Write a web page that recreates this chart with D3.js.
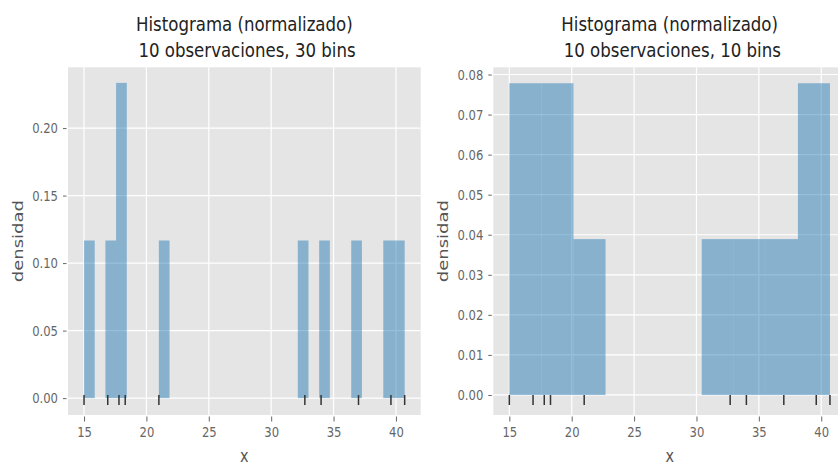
<!DOCTYPE html>
<html lang="es">
<head>
<meta charset="UTF-8">
<title>Histograma (normalizado)</title>
<script src="https://d3js.org/d3.v7.min.js"></script>
<style>
    html, body { margin: 0; padding: 0; background: #fff; overflow: hidden; }
    svg { display: block; font-family: "DejaVu Sans", sans-serif; }
    .tick line { stroke: #666; }
    .domain { display: none; }
</style>
</head>
<body>
<svg id="chart" width="838" height="465"></svg>
<script>
const observaciones = [15.0, 16.9, 17.8, 18.3, 21.0, 32.7, 34.0, 37.0, 39.6, 40.7];
const numBins = [30, 10];
const titulos = [
    ["Histograma (normalizado)", " 10 observaciones, 30 bins"],
    ["Histograma (normalizado)", " 10 observaciones, 10 bins"]
];
const xTicks = [15, 20, 25, 30, 35, 40];
const yTicksIzq = [0, 0.05, 0.10, 0.15, 0.20];
const yTicksDer = [0, 0.01, 0.02, 0.03, 0.04, 0.05, 0.06, 0.07, 0.08];
const yDominios = [[-0.0125, 0.245], [-0.005, 0.0818]];

const svg = d3.select("#chart");
const sx = 0.8; // texto comprimido horizontalmente como en la imagen

const panelW = 352.7, plotTop = 67.3, plotBottom = 415;
const panels = [
    {left: 68, yTicks: yTicksIzq, fmt: d3.format(".2f")},
    {left: 493.3, yTicks: yTicksDer, fmt: d3.format(".2f")}
];

const [xmin, xmax] = d3.extent(observaciones);
const pad = (xmax - xmin) * 0.05;

panels.forEach((p, i) => {
    const n = numBins[i];
    const w = (xmax - xmin) / n;
    const bins = d3.bin()
        .domain([xmin, xmax])
        .thresholds(d3.range(1, n).map(k => xmin + k * w))(observaciones);

    const x = d3.scaleLinear().domain([xmin - pad, xmax + pad]).range([p.left, p.left + panelW]);
    const y = d3.scaleLinear().domain(yDominios[i]).range([plotBottom, plotTop]);

    const g = svg.append("g");

    g.append("rect")
        .attr("x", p.left).attr("y", plotTop)
        .attr("width", panelW).attr("height", plotBottom - plotTop)
        .attr("fill", "#e5e5e5");

    // grid
    g.selectAll(".gx").data(xTicks).enter().append("line")
        .attr("x1", d => x(d)).attr("x2", d => x(d))
        .attr("y1", plotTop).attr("y2", plotBottom)
        .attr("stroke", "#fff").attr("stroke-width", 1.2);
    g.selectAll(".gy").data(p.yTicks).enter().append("line")
        .attr("x1", p.left).attr("x2", p.left + panelW)
        .attr("y1", d => y(d)).attr("y2", d => y(d))
        .attr("stroke", "#fff").attr("stroke-width", 1.2);

    // barras
    g.selectAll(".bar").data(bins.filter(b => b.length > 0)).enter().append("rect")
        .attr("x", d => x(d.x0))
        .attr("width", d => x(d.x1) - x(d.x0))
        .attr("y", d => y(d.length / (observaciones.length * w)))
        .attr("height", d => y(0) - y(d.length / (observaciones.length * w)))
        .attr("fill", "#1f77b4")
        .attr("fill-opacity", 0.47);

    // rug
    g.selectAll(".rug").data(observaciones).enter().append("line")
        .attr("x1", d => x(d)).attr("x2", d => x(d))
        .attr("y1", plotBottom - 20).attr("y2", plotBottom - 10)
        .attr("stroke", "#333").attr("stroke-width", 1.5);

    // ejes
    const ax = g.append("g")
        .attr("transform", `translate(0,${plotBottom + 1.5})`)
        .call(d3.axisBottom(x).tickValues(xTicks).tickSize(5).tickPadding(5));
    ax.selectAll("text")
        .attr("font-size", 14.5).attr("fill", "#666")
        .attr("font-family", "DejaVu Sans")
        .attr("transform", `scale(${sx},1)`);

    const ay = g.append("g")
        .attr("transform", `translate(${p.left - 1.5},0)`)
        .call(d3.axisLeft(y).tickValues(p.yTicks).tickFormat(p.fmt).tickSize(3.5).tickPadding(5));
    ay.selectAll("text")
        .attr("font-size", 14.5).attr("fill", "#666")
        .attr("font-family", "DejaVu Sans")
        .attr("x", -8.5 / sx)
        .attr("transform", `scale(${sx},1)`);

    // titulos
    const cx = p.left + panelW / 2;
    titulos[i].forEach((t, j) => {
        g.append("text")
            .attr("transform", `translate(${cx},${31 + j * 25.5}) scale(0.83,1)`)
            .attr("text-anchor", "middle")
            .attr("font-size", 20)
            .attr("fill", "#222")
            .style("white-space", "pre")
            .text(t);
    });

    g.append("text")
        .attr("transform", `translate(${cx},462) scale(${sx},1)`)
        .attr("text-anchor", "middle")
        .attr("font-size", 18).attr("fill", "#555")
        .text("x");

    g.append("text")
        .attr("transform", `translate(${p.left - 45},${(plotTop + plotBottom) / 2}) rotate(-90) scale(1,${sx})`)
        .attr("text-anchor", "middle")
        .attr("font-size", 18).attr("fill", "#555")
        .text("densidad");
});
</script>
</body>
</html>
